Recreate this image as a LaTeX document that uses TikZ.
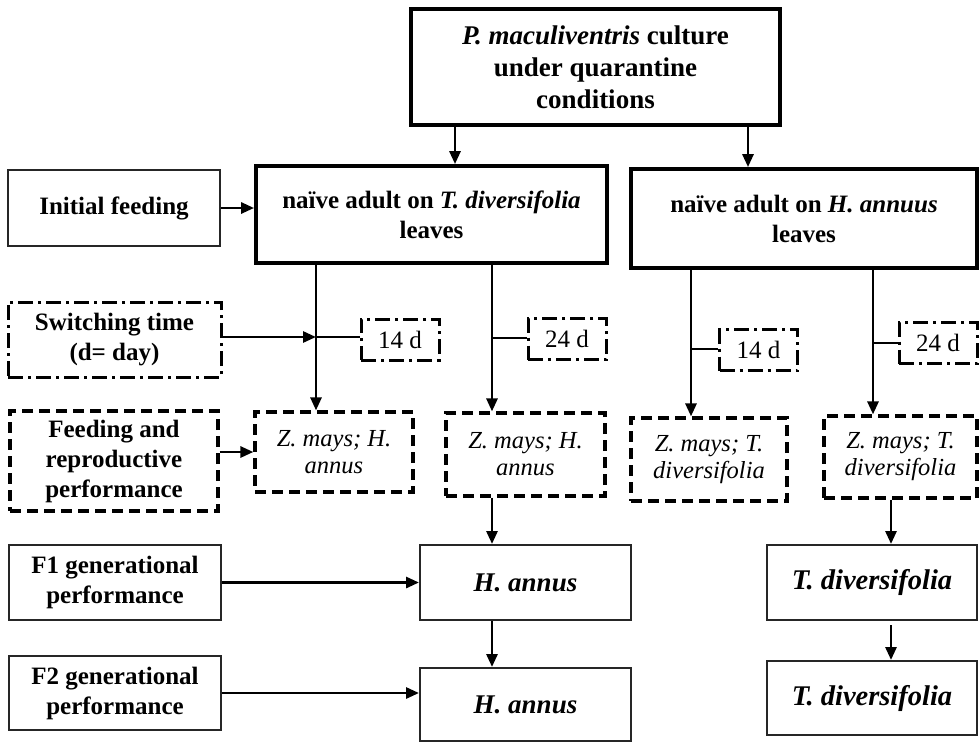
\documentclass[tikz,border=0pt]{standalone}
\usepackage{fontspec}
\setmainfont{Liberation Serif}
\usetikzlibrary{arrows.meta}
\begin{document}
\begin{tikzpicture}[x=1pt,y=-1pt,
  box/.style={draw=black!85, line width=2pt, align=center, inner sep=2pt,
    font=\fontsize{25}{30}\selectfont\bfseries},
  thickbox/.style={box, draw=black, line width=3.8pt},
  dbox/.style={draw=black, line width=3.2pt, dash pattern=on 11pt off 6pt, align=center,
    inner sep=2pt, font=\fontsize{24.5}{27}\selectfont\itshape},
  ddbox/.style={draw=black, line width=3pt, dash pattern=on 15pt off 5pt on 3pt off 5pt,
    align=center, inner sep=2pt},
  daybox/.style={ddbox, minimum width=78pt, minimum height=41pt, font=\fontsize{25}{27}\selectfont},
  arr/.style={line width=2.8pt, -{Triangle[length=13pt,width=11pt]}},
  conn/.style={line width=2.8pt}]
\useasboundingbox (0,0) rectangle (979,742);
\fill[white] (0,0) rectangle (979,742);

% nodes
\node[thickbox, minimum width=369pt, minimum height=116pt, font=\fontsize{27}{32}\selectfont\bfseries] (top) at (595.5,67)
  {\textit{P. maculiventris} culture\\under quarantine\\conditions};
\node[box, minimum width=212pt, minimum height=76pt] (init) at (114,208) {Initial feeding};
\node[thickbox, minimum width=351pt, minimum height=97pt] (naiveT) at (431.5,214.5)
  {naïve adult on \textit{T. diversifolia}\\leaves};
\node[thickbox, minimum width=346pt, minimum height=99pt] (naiveH) at (804,218.5)
  {naïve adult on \textit{H. annuus}\\leaves};
\node[ddbox, minimum width=213pt, minimum height=75pt, font=\fontsize{25}{30}\selectfont\bfseries] (switch) at (114.5,339.5)
  {Switching time\\(d= day)};
\node[daybox] (dL14) at (400,339.5) {14 d};
\node[daybox] (dL24) at (567,339) {24 d};
\node[daybox] (dR14) at (758.5,350) {14 d};
\node[daybox] (dR24) at (938,343) {24 d};
\node[dbox, minimum width=208pt, minimum height=100pt, font=\fontsize{25}{30}\selectfont\bfseries] (feed) at (114,461)
  {Feeding and\\reproductive\\performance};
\node[dbox, minimum width=158pt, minimum height=80pt] (zHL) at (334,452) {Z. mays; H.\\annus};
\node[dbox, minimum width=159pt, minimum height=83pt] (zHR) at (525.5,454.5) {Z. mays; H.\\annus};
\node[dbox, minimum width=156pt, minimum height=83pt] (zTL) at (709,459.5) {Z. mays; T.\\diversifolia};
\node[dbox, minimum width=153pt, minimum height=82pt] (zTR) at (900.5,457) {Z. mays; T.\\diversifolia};
\node[box, minimum width=212pt, minimum height=75pt] (F1) at (115,582.5) {F1 generational\\performance};
\node[box, minimum width=211pt, minimum height=75pt, font=\fontsize{27}{30}\selectfont\bfseries\itshape] (hA1) at (525.5,582.5) {H. annus};
\node[box, minimum width=212pt, minimum height=74pt] (F2) at (115,693) {F2 generational\\performance};
\node[box, minimum width=211pt, minimum height=73pt, font=\fontsize{27}{30}\selectfont\bfseries\itshape] (hA2) at (525.5,704.5) {H. annus};
\node[box, minimum width=210pt, minimum height=75pt, font=\fontsize{28.5}{30}\selectfont\bfseries\itshape] (tD1) at (872,582.5) {T. diversifolia};
\node[box, minimum width=210pt, minimum height=74pt, font=\fontsize{28.5}{30}\selectfont\bfseries\itshape] (tD2) at (872,698) {T. diversifolia};

% x positions of the vertical connectors
\coordinate (xa) at (455,0);
\coordinate (xb) at (748,0);
\coordinate (xc) at (316,337);
\coordinate (xd) at (492,338);
\coordinate (xe) at (691,349);
\coordinate (xf) at (873,343);
\coordinate (xg) at (891,0);

% connectors
\draw[arr] (top.south -| xa) -- (naiveT.north -| xa);
\draw[arr] (top.south -| xb) -- (naiveH.north -| xb);
\draw[arr] (init.east) -- (init.east -| naiveT.west);
\draw[arr] (naiveT.south -| xc) -- (zHL.north -| xc);
\draw[arr] (naiveT.south -| xd) -- (zHR.north -| xd);
\draw[arr] (switch.east |- xc) -- (xc);
\draw[conn] (xc) -- (dL14.west |- xc);
\draw[conn] (xd) -- (dL24.west |- xd);
\draw[arr] (naiveH.south -| xe) -- (zTL.north -| xe);
\draw[arr] (naiveH.south -| xf) -- (zTR.north -| xf);
\draw[conn] (xe) -- (dR14.west |- xe);
\draw[conn] (xf) -- (dR24.west |- xf);
\draw[arr] (feed.east |- zHL.west) -- (zHL.west);
\draw[arr] (zHR.south -| xd) -- (hA1.north -| xd);
\draw[arr] (hA1.south -| xd) -- (hA2.north -| xd);
\draw[arr] (F1.east) -- (F1.east -| hA1.west);
\draw[arr] (F2.east) -- (F2.east -| hA2.west);
\draw[arr] (zTR.south -| xg) -- (tD1.north -| xg);
\draw[arr, shorten <=4pt] (tD1.south -| xg) -- (tD2.north -| xg);
\end{tikzpicture}
\end{document}
